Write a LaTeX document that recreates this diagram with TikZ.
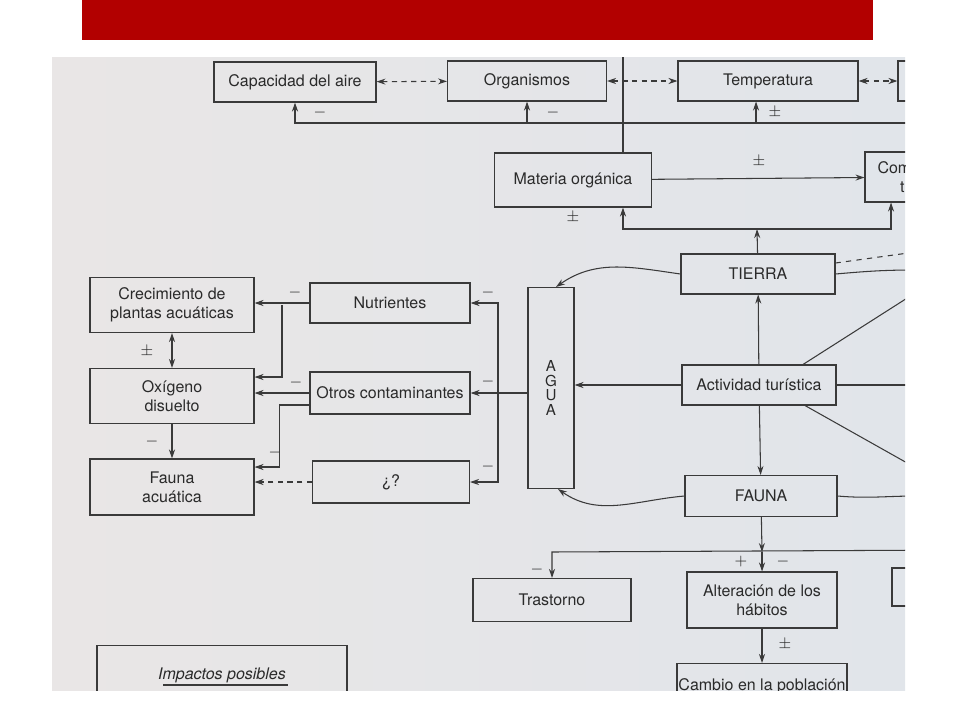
\documentclass[tikz,border=0pt]{standalone}
\usepackage{fontspec}
\setmainfont{TeX Gyre Heros}
\usetikzlibrary{arrows.meta,positioning,calc}
\definecolor{rojobarra}{HTML}{B20000}
\definecolor{papel}{HTML}{E1E5EA}
\definecolor{papelizq}{HTML}{E9E6E6}
\definecolor{trazo}{HTML}{3A3A3A}
\definecolor{texto}{HTML}{2A2A2A}

\begin{document}
\begin{tikzpicture}[x=0.02cm, y=-0.02cm,
  caja/.style={draw=trazo, line width=0.6pt, inner sep=0pt, align=center,
               text=texto, font=\fontsize{9.1}{11}\selectfont},
  signo/.style={text=texto, font=\fontsize{9}{10}\selectfont, inner sep=0pt},
  seta/.style={-{Stealth[length=1.8mm,width=1.2mm]}, trazo, line width=0.6pt},
  doble/.style={{Stealth[length=1.8mm,width=1.2mm]}-{Stealth[length=1.8mm,width=1.2mm]},
                trazo, line width=0.6pt},
  trazada/.style={doble, dashed, dash pattern=on 3pt off 2.5pt},
  linea/.style={trazo, line width=0.6pt}
]
\useasboundingbox (0,0) rectangle (960,720);
\fill[rojobarra] (82,0) rectangle (873,40);
\shade[left color=papelizq, right color=papel] (52,57) rectangle (905,690);

\begin{scope}
\clip (52,57) rectangle (905,690);

\node[caja, minimum width=3.24cm, minimum height=0.8cm] (capacidad) at (295,82) {Capacidad del aire};
\node[caja, minimum width=3.18cm, minimum height=0.8cm] (organismos) at (527,81) {Organismos};
\node[caja, minimum width=3.6cm, minimum height=0.8cm] (temperatura) at (768,81) {Temperatura};
\node[caja, minimum width=2.4cm, minimum height=0.8cm] (cajader) at (958,81) {};
\node[caja, minimum width=3.14cm, minimum height=1.08cm] (materia) at (573,180) {Materia orgánica};
\node[caja, minimum width=2.4cm, minimum height=1cm, text width=2.1cm, align=left] (com) at (925,177)
  {\hspace*{0.1cm}Com\\\hspace*{0.55cm}t};

\node[caja, minimum width=3.08cm, minimum height=0.8cm] (tierra) at (758,274) {TIERRA};
\node[caja, minimum width=0.92cm, minimum height=4.02cm, font=\fontsize{8.6}{8.4}\selectfont] (agua) at (551,388) {A\\G\\U\\A};
\node[caja, minimum width=3.08cm, minimum height=0.8cm] (actividad) at (759,385) {Actividad turística};
\node[caja, minimum width=3.04cm, minimum height=0.82cm] (fauna) at (761,496) {FAUNA};
\node[caja, minimum width=3.16cm, minimum height=0.86cm] (trastorno) at (552,600) {Trastorno};
\node[caja, minimum width=3.0cm, minimum height=1.12cm] (alteracion) at (762,600) {Alteración de los\\hábitos};
\node[caja, minimum width=2.4cm, minimum height=0.76cm] (cajader2) at (952,587) {};
\node[caja, anchor=north, minimum width=3.4cm, inner ysep=0.3cm] (cambio) at (762,663) {Cambio en la población};

\node[caja, minimum width=3.28cm, minimum height=1.1cm] (crecimiento) at (172,305) {Crecimiento de\\plantas acuáticas};
\node[caja, minimum width=3.28cm, minimum height=1.1cm] (oxigeno) at (172,396) {Oxígeno\\disuelto};
\node[caja, minimum width=3.28cm, minimum height=1.12cm] (faunaac) at (172,487) {Fauna\\acuática};
\node[caja, minimum width=3.2cm, minimum height=0.8cm] (nutrientes) at (390,303) {Nutrientes};
\node[caja, minimum width=3.2cm, minimum height=0.84cm] (otros) at (390,393) {Otros contaminantes};
\node[caja, minimum width=3.14cm, minimum height=0.84cm] (interro) at (391,482) {¿?};
\node[caja, anchor=north, minimum width=5cm, inner ysep=0.44cm,
      font=\fontsize{9.1}{11}\selectfont\itshape] (impactos) at (222,645) {Impactos posibles};
\draw[linea] (163,685) -- (288,685);

\coordinate (retro) at (960,123);
\coordinate (nudo) at (757,229);
\coordinate (nudo2) at (762,552);
\coordinate (r1) at (282,305);
\coordinate (ra) at (498,393);

\draw[trazada] (capacidad) -- (organismos);
\draw[trazada] (organismos) -- (temperatura);
\draw[trazada] (temperatura) -- (cajader);
\draw[seta] (retro) -| (capacidad);
\draw[seta] (organismos.south |- retro) -- (organismos);
\draw[seta] ([xshift=-0.24cm]temperatura.south |- retro) -- ([xshift=-0.24cm]temperatura.south);
\draw[linea] ([xshift=1cm]materia.north) -- ++(0,-110);
\draw[seta] (materia) -- (com);

\draw[seta] (tierra) -- (nudo);
\draw[seta] (nudo) -| ([xshift=1cm]materia.south);
\draw[seta] (nudo) -| ([xshift=-0.68cm]com.south);
\draw[linea, dashed] ([yshift=0.22cm]tierra.east) -- ++(80,-11);
\draw[linea] (tierra.east) to[out=5,in=180] ++(80,-4);
\draw[seta] (tierra.west) to[out=172,in=35] ([xshift=0.1cm]agua.north);
\draw[seta] (fauna.west) to[out=185,in=-35] ([xshift=0.14cm]agua.south);

\draw[seta] (actividad) -- (tierra);
\draw[seta] (actividad) -- (fauna);
\draw[seta] (actividad.west) -- (actividad.west -| agua.east);
\draw[linea] ([xshift=0.88cm]actividad.north) -- ++(160,-102);
\draw[linea] (actividad.east) -- ++(130,0);
\draw[linea] ([xshift=0.92cm]actividad.south) -- ++(160,90);
\draw[linea] (fauna.east) to[out=-5,in=180] ++(80,0);

\draw[seta] (fauna) -- (nudo2);
\draw[seta] (nudo2) -- (alteracion);
\draw[seta] (960,550) -- (nudo2 -| trastorno) -- (trastorno);
\draw[seta] (alteracion) -- (cambio);

\draw[seta] (nutrientes.west) -- (nutrientes.west -| crecimiento.east);
\draw[seta] (r1) |- ([yshift=0.38cm]oxigeno.east);
\draw[seta] (otros.west) -- (otros.west -| oxigeno.east);
\draw[seta] ([yshift=-0.24cm]otros.west) -- ++(-30,0) |- ([yshift=0.4cm]faunaac.east);
\draw[seta, dashed, dash pattern=on 3pt off 2.5pt] (interro.west) -- (interro.west -| faunaac.east);
\draw[doble] (crecimiento) -- (oxigeno);
\draw[seta] (oxigeno) -- (faunaac);
\draw[seta] (agua.west |- ra) -- (otros.east);
\draw[seta] (ra) |- (nutrientes.east);
\draw[seta] (ra) |- (interro.east);

\node[signo] (s1) at (320,113) {$-$};
\node[signo] (s2) at (553,113) {$-$};
\node[signo] (s3) at (775,113) {$\pm$};
\node[signo] (s4) at (759,162) {$\pm$};
\node[signo] (s5) at (573,218) {$\pm$};
\node[signo] (s6) at (295,293) {$-$};
\node[signo] (s7) at (296,383) {$-$};
\node[signo] (s8) at (275,453) {$-$};
\node[signo] (s9) at (147,352) {$\pm$};
\node[signo] (s10) at (152,442) {$-$};
\node[signo] (s11) at (488,293) {$-$};
\node[signo] (s12) at (488,382) {$-$};
\node[signo] (s13) at (488,467) {$-$};
\node[signo] (s14) at (741,562) {$+$};
\node[signo] (s15) at (783,562) {$-$};
\node[signo] (s16) at (537,570) {$-$};
\node[signo] (s17) at (785,645) {$\pm$};
\end{scope}
\end{tikzpicture}
\end{document}
